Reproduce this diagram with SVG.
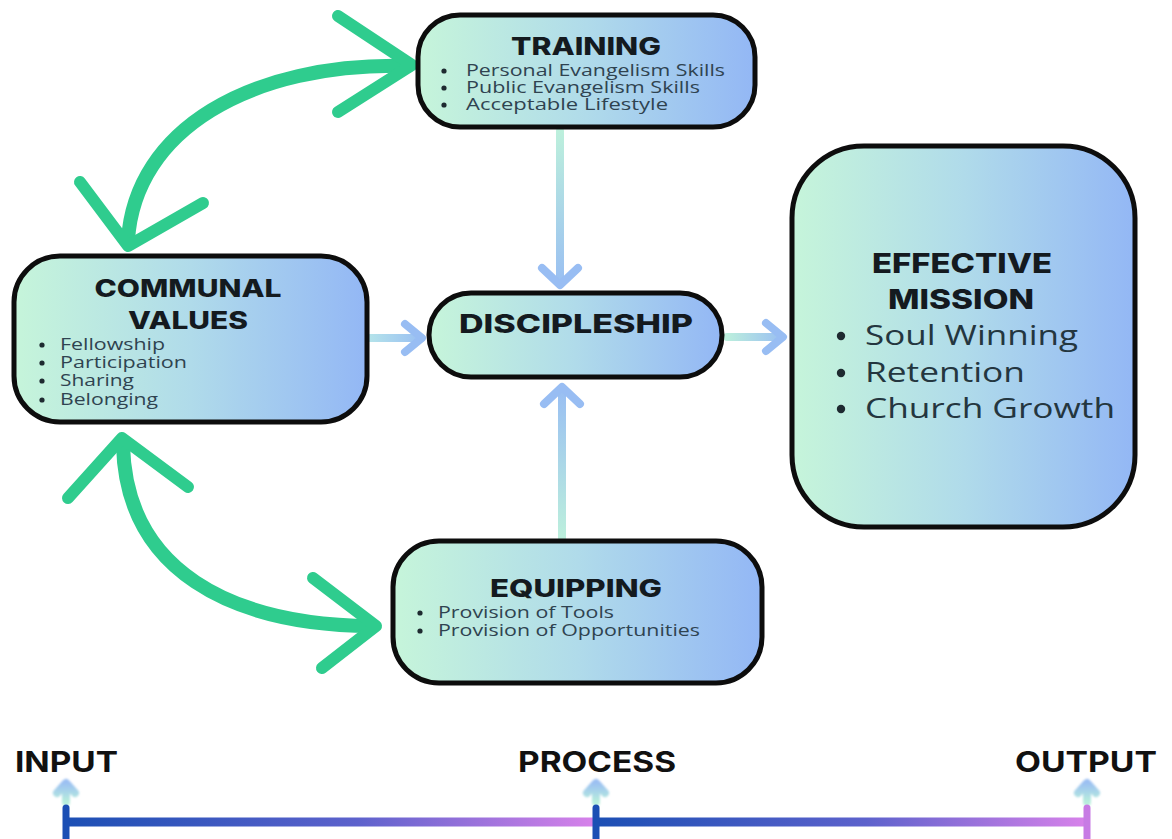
<svg xmlns="http://www.w3.org/2000/svg" width="1172" height="839" viewBox="0 0 1172 839">
  <defs>
    <linearGradient id="boxFill" x1="0" y1="0" x2="1" y2="0">
      <stop offset="0" stop-color="#c6f5da"/>
      <stop offset="0.5" stop-color="#b0dbea"/>
      <stop offset="1" stop-color="#93b7f5"/>
    </linearGradient>
    <linearGradient id="vDown" x1="0" y1="130" x2="0" y2="290" gradientUnits="userSpaceOnUse">
      <stop offset="0" stop-color="#bdf0dc"/>
      <stop offset="1" stop-color="#98bdf3"/>
    </linearGradient>
    <linearGradient id="vUp" x1="0" y1="540" x2="0" y2="385" gradientUnits="userSpaceOnUse">
      <stop offset="0" stop-color="#bdf0dc"/>
      <stop offset="1" stop-color="#98bdf3"/>
    </linearGradient>
    <linearGradient id="hLeft" x1="368" y1="0" x2="424" y2="0" gradientUnits="userSpaceOnUse">
      <stop offset="0" stop-color="#b5e4ea"/>
      <stop offset="1" stop-color="#98bdf3"/>
    </linearGradient>
    <linearGradient id="hRight" x1="725" y1="0" x2="785" y2="0" gradientUnits="userSpaceOnUse">
      <stop offset="0" stop-color="#bdf0dc"/>
      <stop offset="1" stop-color="#98bdf3"/>
    </linearGradient>
    <linearGradient id="barGrad1" x1="66" y1="0" x2="596" y2="0" gradientUnits="userSpaceOnUse">
      <stop offset="0" stop-color="#1c4fb4"/>
      <stop offset="0.55" stop-color="#5d62cc"/>
      <stop offset="1" stop-color="#d882ea"/>
    </linearGradient>
    <linearGradient id="barGrad2" x1="596" y1="0" x2="1087" y2="0" gradientUnits="userSpaceOnUse">
      <stop offset="0" stop-color="#1c4fb4"/>
      <stop offset="0.55" stop-color="#5d62cc"/>
      <stop offset="1" stop-color="#d882ea"/>
    </linearGradient>
    <linearGradient id="tickUp" x1="0" y1="1" x2="0" y2="0">
      <stop offset="0" stop-color="#b8efdc"/>
      <stop offset="1" stop-color="#9cc0f2"/>
    </linearGradient>
    <filter id="soft" x="-50%" y="-50%" width="200%" height="200%">
      <feGaussianBlur stdDeviation="1"/>
    </filter>
  </defs>
  <style>
    .box { fill: url(#boxFill); stroke: #0d0d0d; stroke-width: 5; }
    .head { font-family: Inter, "Liberation Sans", sans-serif; font-weight: 800; fill: #141a1f; text-anchor: middle; }
    .item { font-family: "Open Sans", Inter, "Liberation Sans", sans-serif; font-weight: 500; fill: #2f4350; font-size: 15.5px; }
    .big { font-family: "Open Sans", Inter, "Liberation Sans", sans-serif; font-weight: 400; fill: #24363f; font-size: 27px; }
    .dot { fill: #1e2a30; }
    .green { fill: none; stroke: #2fcc8e; stroke-linecap: round; stroke-linejoin: round; }
    .flow { fill: none; stroke-linecap: round; stroke-linejoin: round; stroke-width: 8; }
    .tl { font-family: Inter, "Liberation Sans", sans-serif; font-weight: 700; font-size: 28px; fill: #111; }
  </style>

  <rect width="1172" height="839" fill="#ffffff"/>

  <!-- connectors -->
  <g id="connectors">
    <!-- green two-way curved arrows -->
    <path class="green" stroke-width="14" d="M 128 240 C 135 130, 250 62, 408 66"/>
    <path class="green" stroke-width="12" d="M 338 16 L 412 65 L 338 112"/>
    <path class="green" stroke-width="12" d="M 80 182 L 128 246 L 203 203"/>

    <path class="green" stroke-width="14" d="M 123 445 C 126 570, 230 625, 372 626"/>
    <path class="green" stroke-width="12" d="M 68 498 L 122 438 L 188 487"/>
    <path class="green" stroke-width="12" d="M 313 578 L 376 626 L 322 668"/>

    <!-- flow arrows into and out of discipleship -->
    <path class="flow" stroke="url(#vDown)" d="M 560 131 L 560 284"/>
    <path class="flow" stroke="#98bdf3" d="M 542 268 L 560 285 L 578 268"/>

    <path class="flow" stroke="url(#vUp)" d="M 562 540 L 562 390"/>
    <path class="flow" stroke="#98bdf3" d="M 544 404 L 562 387 L 580 404"/>

    <path class="flow" stroke="url(#hLeft)" d="M 370 338 L 421 338"/>
    <path class="flow" stroke="#98bdf3" d="M 405 324 L 422 338 L 405 352"/>

    <path class="flow" stroke="url(#hRight)" d="M 727 337 L 781 337"/>
    <path class="flow" stroke="#98bdf3" d="M 766 323 L 783 337 L 766 351"/>
  </g>

  <!-- nodes -->
  <g id="training">
    <rect class="box" x="418" y="15" width="337" height="112" rx="42"/>
    <text class="head" x="586" y="55" font-size="24" textLength="150" lengthAdjust="spacingAndGlyphs">TRAINING</text>
    <circle class="dot" cx="444" cy="71" r="2.6"/>
    <circle class="dot" cx="444" cy="88" r="2.6"/>
    <circle class="dot" cx="444" cy="105" r="2.6"/>
    <text class="item" x="466" y="76" textLength="259" lengthAdjust="spacingAndGlyphs">Personal Evangelism Skills</text>
    <text class="item" x="466" y="93" textLength="234" lengthAdjust="spacingAndGlyphs">Public Evangelism Skills</text>
    <text class="item" x="466" y="110" textLength="202" lengthAdjust="spacingAndGlyphs">Acceptable Lifestyle</text>
  </g>

  <g id="communal-values">
    <rect class="box" x="14" y="256" width="353" height="166" rx="46"/>
    <text class="head" x="188" y="297" font-size="24" textLength="187" lengthAdjust="spacingAndGlyphs">COMMUNAL</text>
    <text class="head" x="188" y="329" font-size="24" textLength="120" lengthAdjust="spacingAndGlyphs">VALUES</text>
    <circle class="dot" cx="42" cy="345" r="2.6"/>
    <circle class="dot" cx="42" cy="363" r="2.6"/>
    <circle class="dot" cx="42" cy="381" r="2.6"/>
    <circle class="dot" cx="42" cy="400" r="2.6"/>
    <text class="item" x="60" y="350" textLength="105" lengthAdjust="spacingAndGlyphs">Fellowship</text>
    <text class="item" x="60" y="368" textLength="127" lengthAdjust="spacingAndGlyphs">Participation</text>
    <text class="item" x="60" y="386" textLength="74" lengthAdjust="spacingAndGlyphs">Sharing</text>
    <text class="item" x="60" y="405" textLength="98" lengthAdjust="spacingAndGlyphs">Belonging</text>
  </g>

  <g id="discipleship">
    <rect class="box" x="429" y="293" width="293" height="84" rx="42" stroke-width="4"/>
    <text class="head" x="576" y="333" font-size="26" textLength="234" lengthAdjust="spacingAndGlyphs">DISCIPLESHIP</text>
  </g>

  <g id="equipping">
    <rect class="box" x="393" y="541" width="369" height="142" rx="46"/>
    <text class="head" x="576" y="597" font-size="24" textLength="172" lengthAdjust="spacingAndGlyphs">EQUIPPING</text>
    <circle class="dot" cx="420" cy="613" r="2.6"/>
    <circle class="dot" cx="420" cy="631" r="2.6"/>
    <text class="item" x="438" y="618" textLength="176" lengthAdjust="spacingAndGlyphs">Provision of Tools</text>
    <text class="item" x="438" y="636" textLength="262" lengthAdjust="spacingAndGlyphs">Provision of Opportunities</text>
  </g>

  <g id="effective-mission">
    <rect class="box" x="792" y="146" width="343" height="381" rx="72"/>
    <text class="head" x="962" y="273" font-size="27" textLength="180" lengthAdjust="spacingAndGlyphs">EFFECTIVE</text>
    <text class="head" x="961" y="309" font-size="27" textLength="146" lengthAdjust="spacingAndGlyphs">MISSION</text>
    <circle class="dot" cx="841" cy="336" r="4.2"/>
    <circle class="dot" cx="841" cy="373" r="4.2"/>
    <circle class="dot" cx="841" cy="409" r="4.2"/>
    <text class="big" x="865" y="345" textLength="213" lengthAdjust="spacingAndGlyphs">Soul Winning</text>
    <text class="big" x="865" y="382" textLength="160" lengthAdjust="spacingAndGlyphs">Retention</text>
    <text class="big" x="865" y="418" textLength="250" lengthAdjust="spacingAndGlyphs">Church Growth</text>
  </g>

  <!-- input / process / output timeline -->
  <g id="timeline">
    <text class="tl" x="15" y="772" textLength="103" lengthAdjust="spacingAndGlyphs">INPUT</text>
    <text class="tl" x="518" y="772" textLength="158" lengthAdjust="spacingAndGlyphs">PROCESS</text>
    <text class="tl" x="1015" y="772" textLength="142" lengthAdjust="spacingAndGlyphs">OUTPUT</text>

    <g filter="url(#soft)">
      <path class="flow" stroke="url(#tickUp)" stroke-width="5" d="M 66 802 L 66 784 M 57 793 L 66 783 L 75 793"/>
      <path class="flow" stroke="url(#tickUp)" stroke-width="5" d="M 596 802 L 596 784 M 587 793 L 596 783 L 605 793"/>
      <path class="flow" stroke="url(#tickUp)" stroke-width="5" d="M 1087 802 L 1087 784 M 1078 793 L 1087 783 L 1096 793"/>
    </g>

    <line x1="66" y1="822" x2="596" y2="822" stroke="url(#barGrad1)" stroke-width="9"/>
    <line x1="596" y1="822" x2="1087" y2="822" stroke="url(#barGrad2)" stroke-width="9"/>
    <line x1="66" y1="808" x2="66" y2="839" stroke="#1c4fb4" stroke-width="7" stroke-linecap="round"/>
    <line x1="596" y1="808" x2="596" y2="839" stroke="#1c4fb4" stroke-width="7" stroke-linecap="round"/>
    <line x1="1087" y1="808" x2="1087" y2="839" stroke="#c77be4" stroke-width="7" stroke-linecap="round"/>
  </g>
</svg>
